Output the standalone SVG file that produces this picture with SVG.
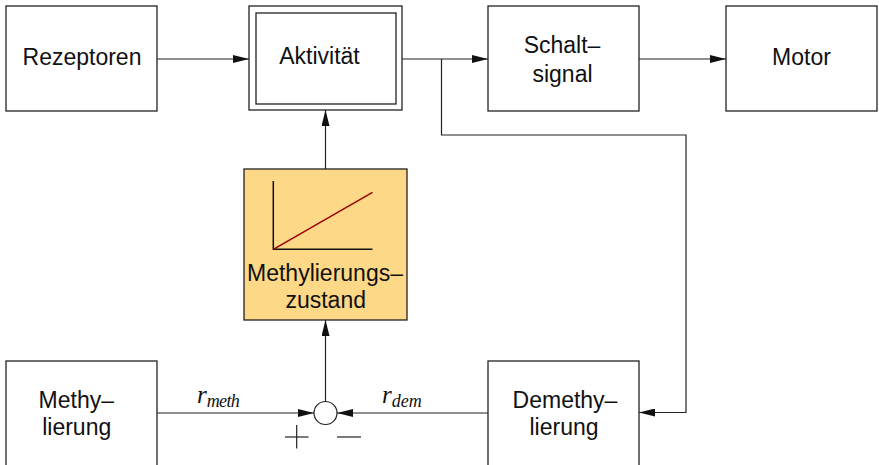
<svg xmlns="http://www.w3.org/2000/svg" width="879" height="465" viewBox="0 0 879 465">
<style>
.box{fill:#fff;stroke:#222;stroke-width:1.3}
.lbl{font-family:"Liberation Sans",Arial,sans-serif;font-size:23px;fill:#111;text-anchor:middle}
.ln{fill:none;stroke:#222;stroke-width:1.2}
.math{font-family:"Liberation Serif","Times New Roman",serif;font-style:italic;fill:#111}
</style>
<defs>
<marker id="ah" markerWidth="16" markerHeight="8" refX="16" refY="4" orient="auto" markerUnits="userSpaceOnUse">
<path d="M0,0 L16,4 L0,8 Z" fill="#111"/>
</marker>
</defs>
<rect width="879" height="465" fill="#fff"/>
<g id="connectors">
<line class="ln" x1="157" y1="59" x2="249" y2="59" marker-end="url(#ah)"/>
<line class="ln" x1="402" y1="59" x2="488" y2="59" marker-end="url(#ah)"/>
<line class="ln" x1="639" y1="59" x2="726" y2="59" marker-end="url(#ah)"/>
<polyline class="ln" points="441.5,59 441.5,135 686,135 686,412.5 639,412.5" marker-end="url(#ah)"/>
<line class="ln" x1="325.5" y1="169" x2="325.5" y2="110" marker-end="url(#ah)"/>
<line class="ln" x1="325.5" y1="402" x2="325.5" y2="320" marker-end="url(#ah)"/>
<line class="ln" x1="157" y1="413" x2="314" y2="413" marker-end="url(#ah)"/>
<line class="ln" x1="488" y1="413" x2="337" y2="413" marker-end="url(#ah)"/>
<text class="math" x="197" y="403" font-size="25">r<tspan font-size="18" dy="4" textLength="33">meth</tspan></text>
<text class="math" x="382" y="403" font-size="25">r<tspan font-size="18" dy="4" textLength="30">dem</tspan></text>
</g>
<g id="sum">
<circle cx="325.5" cy="413" r="11.5" fill="#fff" stroke="#222" stroke-width="1.2"/>
<line class="ln" x1="285" y1="437" x2="308.5" y2="437"/>
<line class="ln" x1="296.7" y1="425" x2="296.7" y2="448.5"/>
<line class="ln" x1="337" y1="437" x2="361" y2="437"/>
</g>
<g id="rezeptoren">
<rect class="box" x="6" y="6" width="151" height="105"/>
<text class="lbl" x="82" y="65">Rezeptoren</text>
</g>
<g id="aktivitaet">
<rect class="box" x="249" y="6" width="153" height="104"/>
<rect class="box" x="256" y="13" width="140" height="91"/>
<text class="lbl" x="319.5" y="64">Aktivität</text>
</g>
<g id="schaltsignal">
<rect class="box" x="488" y="6" width="151" height="105"/>
<text class="lbl" x="562" y="53">Schalt–</text>
<text class="lbl" x="562.5" y="82">signal</text>
</g>
<g id="motor">
<rect class="box" x="726" y="6" width="151" height="105"/>
<text class="lbl" x="801.5" y="65">Motor</text>
</g>
<g id="methylierungszustand">
<rect x="244" y="169" width="163" height="151" fill="#fdd886" stroke="#222" stroke-width="1.3"/>
<polyline points="273.3,181 273.3,249.3 372.5,249.3" fill="none" stroke="#111" stroke-width="1.5"/>
<line x1="273.3" y1="249.3" x2="372.5" y2="192.3" stroke="#990000" stroke-width="1.5"/>
<text class="lbl" x="325" y="281">Methylierungs–</text>
<text class="lbl" x="325.7" y="308">zustand</text>
</g>
<g id="methylierung">
<rect class="box" x="6" y="361" width="151" height="108"/>
<text class="lbl" x="76.3" y="408">Methy–</text>
<text class="lbl" x="76.7" y="435">lierung</text>
</g>
<g id="demethylierung">
<rect class="box" x="488" y="361" width="151" height="108"/>
<text class="lbl" x="565" y="408">Demethy–</text>
<text class="lbl" x="564" y="435">lierung</text>
</g>
</svg>
